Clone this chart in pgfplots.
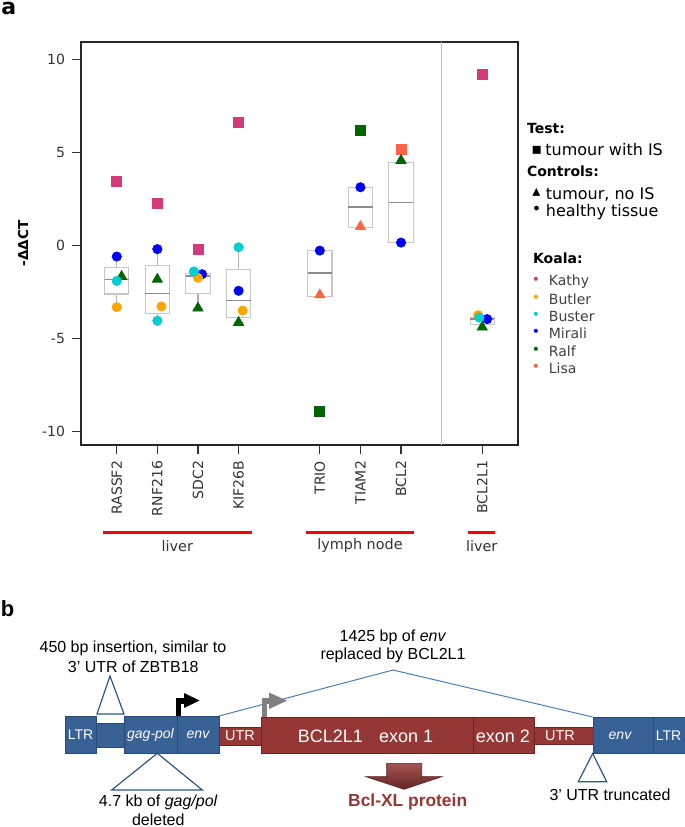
\documentclass[border=0pt]{standalone}
\usepackage{pgfplots}
\pgfplotsset{compat=1.18}
\usepgfplotslibrary{statistics}
\usepackage{fontspec}
\setmainfont{DejaVu Sans}
\newfontfamily\arial{Liberation Sans}
\definecolor{kathy}{RGB}{210,58,122}
\definecolor{butler}{RGB}{255,165,0}
\definecolor{buster}{RGB}{0,206,209}
\definecolor{mirali}{RGB}{0,0,255}
\definecolor{ralf}{RGB}{0,100,0}
\definecolor{lisa}{RGB}{255,99,71}
\definecolor{bblue}{RGB}{56,98,150}
\definecolor{bblueb}{RGB}{40,74,118}
\definecolor{bbrown}{RGB}{149,55,53}
\definecolor{bbrownb}{RGB}{112,36,34}
\definecolor{lblue}{RGB}{74,126,187}
\definecolor{tblue}{RGB}{47,86,140}
\newcommand\fs[1]{\fontsize{#1}{#1}\selectfont}
\newcommand\af[1]{\arial\fontsize{#1}{#1}\selectfont}
\pgfplotsset{
  kbox/.style={draw=black!22, line width=0.55pt, solid,
    boxplot/draw direction=y,
    boxplot/box extend=0.6, boxplot/whisker extend=0.25,
    boxplot/every median/.style={draw=black!45, line width=0.7pt},
    boxplot/every whisker/.style={draw=black!30, line width=0.6pt}},
}
\begin{document}
\begin{tikzpicture}
\path[use as bounding box] (0,0) rectangle (342.5pt,-413.5pt);
\begin{axis}[
  at={(40.5pt,-222.5pt)}, anchor=south west,
  scale only axis, width=218.5pt, height=201.5pt,
  xmin=-0.88, xmax=9.88, ymin=-10.71, ymax=10.93,
  xtick={0,1,2,3,5,6,7,9},
  xticklabels={RASSF2,RNF216,SDC2,KIF26B,TRIO,TIAM2,BCL2,BCL2L1},
  ytick={-10,-5,0,5,10},
  yticklabels={-10,-5,0,5,10},
  tick align=outside, xtick pos=left, ytick pos=left,
  major tick length=4.5pt,
  tick style={black!80, line width=0.6pt},
  axis line style={black!85, line width=0.9pt},
  ticklabel style={font=\fs{7}, text=black!80},
  xticklabel style={rotate=90, anchor=east},
  ylabel={\textbf{-ΔΔCT}},
  ylabel style={font=\fs{6.8}},
]
\draw[black!25, line width=0.7pt] (axis cs:8,-10.71) -- (axis cs:8,10.93);
% boxes
\addplot[kbox, boxplot prepared={draw position=0, lower whisker=-3.31, lower quartile=-2.6, median=-1.81, upper quartile=-1.18, upper whisker=-0.59}] coordinates {};
\addplot[kbox, boxplot prepared={draw position=1, lower whisker=-4.04, lower quartile=-3.67, median=-2.59, upper quartile=-1.07, upper whisker=-0.19}] coordinates {};
\addplot[kbox, boxplot prepared={draw position=2, lower whisker=-3.36, lower quartile=-2.59, median=-1.63, upper quartile=-1.48, upper whisker=-1.39}] coordinates {};
\addplot[kbox, boxplot prepared={draw position=3, lower whisker=-4.13, lower quartile=-3.85, median=-2.95, upper quartile=-1.27, upper whisker=-0.09}] coordinates {};
\addplot[kbox, boxplot prepared={draw position=5, lower whisker=-2.74, lower quartile=-2.74, median=-1.48, upper quartile=-0.27, upper whisker=-0.27}] coordinates {};
\addplot[kbox, boxplot prepared={draw position=6, lower whisker=0.99, lower quartile=0.99, median=2.06, upper quartile=3.13, upper whisker=3.13}] coordinates {};
\addplot[kbox, boxplot prepared={draw position=7, lower whisker=0.16, lower quartile=0.16, median=2.31, upper quartile=4.48, upper whisker=4.48}] coordinates {};
\addplot[kbox, boxplot prepared={draw position=9, lower whisker=-4.22, lower quartile=-4.22, median=-3.95, upper quartile=-3.85, upper whisker=-3.85}] coordinates {};
% tumour with IS (squares)
\addplot[only marks, mark=square*, mark size=2.5pt, color=kathy] coordinates {(0,3.44) (1,2.28) (2,-0.19) (3,6.61) (9,9.17)};
\addplot[only marks, mark=square*, mark size=2.5pt, color=ralf] coordinates {(5,-8.92) (6,6.21)};
\addplot[only marks, mark=square*, mark size=2.5pt, color=lisa] coordinates {(7,5.18)};
% healthy tissue (circles) Mirali
\addplot[only marks, mark=*, mark size=2.3pt, color=mirali] coordinates {(0,-0.59) (1,-0.19) (2.1,-1.54) (3,-2.43) (5,-0.27) (6,3.13) (7,0.16) (9.12,-3.95)};
% tumour no IS (triangles)
\addplot[only marks, mark=triangle*, mark size=2.9pt, color=ralf] coordinates {(0.12,-1.66) (1,-1.81) (2,-3.36) (3,-4.13) (7,4.57) (9,-4.38)};
\addplot[only marks, mark=triangle*, mark size=2.9pt, color=lisa] coordinates {(5,-2.65) (6,1.02)};
% healthy tissue (circles) Butler, Buster
\addplot[only marks, mark=*, mark size=2.3pt, color=butler] coordinates {(0,-3.31) (1.1,-3.27) (2,-1.73) (3.1,-3.49) (8.9,-3.74)};
\addplot[only marks, mark=*, mark size=2.3pt, color=buster] coordinates {(0,-1.9) (1,-4.04) (1.9,-1.39) (3,-0.09) (8.93,-3.87)};
\end{axis}

\begin{scope}[x=0.5pt,y=-0.5pt]
% panel labels
\node[anchor=north west, inner sep=0pt, font=\fs{11}\bfseries] at (1,1.5) {a};
\node[anchor=north west, inner sep=0pt, font=\arial\fontsize{11}{11}\selectfont\bfseries] at (0.5,600) {b};
% tissue group lines
\draw[red, line width=1.4pt] (103,532.7) -- (251.7,532.7);
\draw[red, line width=1.4pt] (305.7,532.7) -- (414,532.7);
\draw[red, line width=1.4pt] (468.3,532.7) -- (495,532.7);
\node[font=\fs{7.2}, text=black!80] at (177.3,546) {liver};
\node[font=\fs{7.2}, text=black!80] at (360,546) {lymph node};
\node[font=\fs{7.2}, text=black!80] at (481.7,546) {liver};
% legend
\node[anchor=west, inner sep=0pt, font=\fs{7}\bfseries] at (526.7,128.3) {Test:};
\node[inner sep=0pt, font=\fs{8}] at (536.7,150) {▪};
\node[anchor=west, inner sep=0pt, font=\fs{8}] at (545,149.3) {tumour with IS};
\node[anchor=west, inner sep=0pt, font=\fs{7}\bfseries] at (526.7,171) {Controls:};
\node[inner sep=0pt, font=\fs{8}] at (536.5,192.5) {▴};
\node[anchor=west, inner sep=0pt, font=\fs{8}] at (545.5,194.3) {tumour, no IS};
\node[inner sep=0pt, font=\fs{8}] at (536.5,210.5) {•};
\node[anchor=west, inner sep=0pt, font=\fs{8}] at (545.5,211.7) {healthy tissue};
\node[anchor=west, inner sep=0pt, font=\fs{7}\bfseries] at (532.7,258.3) {Koala:};
\foreach \nm/\col [count=\i from 0] in {Kathy/kathy,Butler/butler,Buster/buster,Mirali/mirali,Ralf/ralf,Lisa/lisa}{
  \node[inner sep=0pt, font=\fs{7}, text=\col] at (536,281.2+17.3*\i) {•};
  \node[anchor=west, inner sep=0pt, font=\fs{7}, text=black!75] at (548.5,281.7+17.3*\i) {\nm};
}
% ---------- panel b ----------
\draw[lblue, line width=0.5pt] (219,716) -- (393,670) -- (592.7,717);
\draw[fill=bblue, draw=bblueb, line width=0.5pt] (65,716) rectangle (96,753);
\draw[fill=bblue, draw=bblueb, line width=0.5pt] (96,723) rectangle (124,747);
\draw[fill=bblue, draw=bblueb, line width=0.5pt] (124,716) rectangle (177,753);
\draw[fill=bblue, draw=bblueb, line width=0.5pt] (177,716) rectangle (219,753);
\draw[fill=bbrown, draw=bbrownb, line width=0.5pt] (219,727.5) rectangle (261,745);
\draw[fill=bbrown, draw=bbrownb, line width=0.5pt] (261,717) rectangle (473,753);
\draw[fill=bbrown, draw=bbrownb, line width=0.5pt] (473,717) rectangle (534,753);
\draw[fill=bbrown, draw=bbrownb, line width=0.5pt] (534,727.5) rectangle (593,744.5);
\draw[fill=bblue, draw=bblueb, line width=0.5pt] (593,717) rectangle (653,753);
\draw[fill=bblue, draw=bblueb, line width=0.5pt] (653,717) rectangle (685.5,753);
% triangles
\draw[fill=white, draw=tblue, line width=0.6pt] (110,676) -- (97,714) -- (124,714) -- cycle;
\draw[fill=white, draw=tblue, line width=0.6pt] (157.3,753.3) -- (111.7,790) -- (202.3,790) -- cycle;
\draw[fill=white, draw=tblue, line width=0.6pt] (592.7,753.5) -- (578.3,781.7) -- (606.7,781.7) -- cycle;
% promoter arrows
\fill[black] (175.7,697.5) rectangle (181,716);
\fill[black] (175.7,697.5) rectangle (186,703.5);
\fill[black] (184,693) -- (199.5,700.5) -- (184,708) -- cycle;
\fill[black!50] (261.7,698) rectangle (266.7,717);
\fill[black!50] (261.7,698) rectangle (271,703.5);
\fill[black!50] (269,692.5) -- (287,700.7) -- (269,709) -- cycle;
% protein arrow
\shade[top color=bbrown!85!white, bottom color=bbrown!65!black, draw=bbrown!60!black, line width=0.3pt]
  (386.7,763.3) -- (421.7,763.3) -- (421.7,776.7) -- (441.7,776.7) -- (404,789.3) -- (366,776.7) -- (386.7,776.7) -- cycle;
% texts
\node[font=\af{8}, align=center, inner sep=0pt] at (133,648.3) {450 bp insertion, similar to};
\node[font=\af{8}, inner sep=0pt] at (133.3,666.7) {3’ UTR of ZBTB18};
\node[font=\af{8}, inner sep=0pt] at (393,637) {1425 bp of \textit{env}};
\node[font=\af{8}, inner sep=0pt] at (393,655) {replaced by BCL2L1};
\node[font=\af{8}, inner sep=0pt] at (158.3,802) {4.7 kb of \textit{gag/pol}};
\node[font=\af{8}, inner sep=0pt] at (158.3,819.5) {deleted};
\node[font=\af{8.7}\bfseries, text=bbrown, inner sep=0pt] at (407.7,801.7) {Bcl-XL protein};
\node[font=\af{8}, inner sep=0pt] at (610,795) {3’ UTR truncated};
\node[font=\af{7}, text=white, inner sep=0pt] at (80.5,735) {LTR};
\node[font=\af{7}\itshape, text=white, inner sep=0pt] at (150.5,735) {gag-pol};
\node[font=\af{7}\itshape, text=white, inner sep=0pt] at (198,735) {env};
\node[font=\af{7.2}, text=white, inner sep=0pt] at (240,736) {UTR};
\node[font=\af{9}, text=white, inner sep=0pt, anchor=east] at (363.3,736.5) {BCL2L1};
\node[font=\af{9}, text=white, inner sep=0pt] at (406.2,736.5) {exon 1};
\node[font=\af{9}, text=white, inner sep=0pt] at (503,736.5) {exon 2};
\node[font=\af{7.2}, text=white, inner sep=0pt] at (560,736) {UTR};
\node[font=\af{7}\itshape, text=white, inner sep=0pt] at (620,736) {env};
\node[font=\af{7}, text=white, inner sep=0pt] at (668.5,736) {LTR};
\end{scope}
\end{tikzpicture}
\end{document}
